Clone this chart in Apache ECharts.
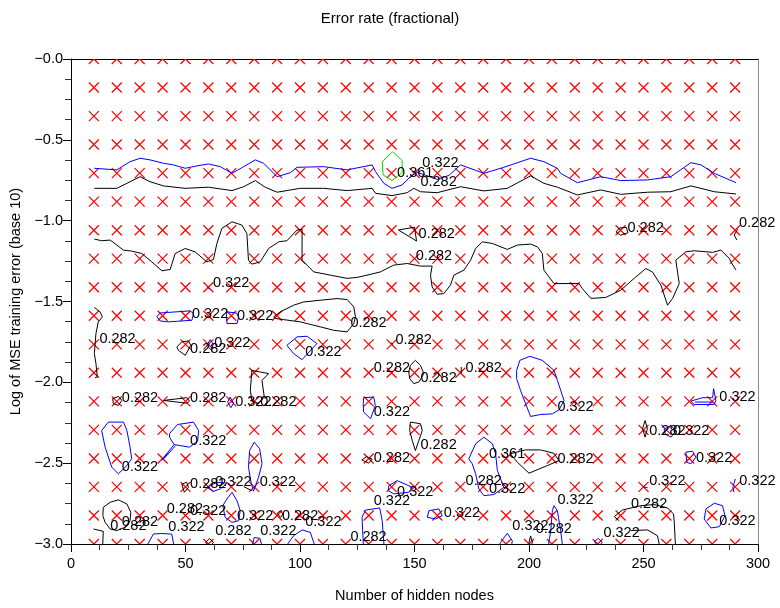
<!DOCTYPE html>
<html>
<head>
<meta charset="utf-8">
<title>Error rate (fractional)</title>
<script src="https://cdn.jsdelivr.net/npm/echarts@6/dist/echarts.min.js"></script>
<style>
  html, body { margin: 0; padding: 0; background: #fff; }
  #chart { width: 780px; height: 608px; }
</style>
</head>
<body>
<div id="chart"></div>
<script>
// Sample grid: number of hidden nodes (x) and log10 MSE training error (y)
const nodeCounts = [10, 20, 30, 40, 50, 60, 70, 80, 90, 100, 110, 120, 130, 140, 150,
  160, 170, 180, 190, 200, 210, 220, 230, 240, 250, 260, 270, 280, 290];
const logMse = [0, -0.176, -0.353, -0.529, -0.706, -0.882, -1.059, -1.235, -1.412,
  -1.588, -1.765, -1.941, -2.118, -2.294, -2.471, -2.647, -2.824, -3.0];

// Contour levels of the error rate
const levels = [0.282, 0.322, 0.361];
const levelColors = ['#000000', '#0000ff', '#00dd00'];

// Contour paths at error rate 0.282
const contour282 = [
  [[10.2,-0.8],[20,-0.8],[24.4,-0.769],[30.2,-0.728],[34.5,-0.759],[40.4,-0.785],[49.9,-0.8],[60,-0.793],[70.3,-0.814],[75.4,-0.79],[80.5,-0.752],[84.8,-0.793],[90,-0.824],[100.1,-0.8],[110.3,-0.8],[120.6,-0.814],[131.5,-0.8],[133,-0.831],[140.2,-0.845],[146.8,-0.827],[149.7,-0.8],[152.6,-0.821],[159.9,-0.827],[170.1,-0.79],[180.3,-0.816],[190.5,-0.8],[200.7,-0.723],[206.5,-0.769],[212.4,-0.793],[221.1,-0.841],[231.3,-0.81],[240.1,-0.837],[251.8,-0.824],[261.9,-0.821],[270.7,-0.785],[280.9,-0.821],[290.4,-0.835]],
  [[10.2,-1.114],[13.4,-1.124],[17.1,-1.12],[22.9,-1.182],[26.5,-1.188],[30.9,-1.203],[35.3,-1.255],[39.7,-1.31],[43.3,-1.302],[45.5,-1.203],[49.9,-1.172],[54.2,-1.193],[59.3,-1.255],[62.2,-1.24],[63.7,-1.141],[65.9,-1.048],[70.3,-1.007],[74.6,-1.027],[76.8,-1.079],[77.5,-1.244],[79,-1.269],[82.6,-1.255],[86.3,-1.172],[90.7,-1.131],[94.3,-1.124],[98.7,-1.058],[100.9,-1.054],[100.9,-1.244],[106,-1.317],[113.3,-1.337],[120.6,-1.357],[124.9,-1.351],[129.3,-1.337],[135.1,-1.317],[140.9,-1.275],[146.8,-1.265],[152.6,-1.281],[157.7,-1.281],[157,-1.337],[157.7,-1.41],[159.9,-1.455],[162.8,-1.451],[165.7,-1.399],[167.2,-1.337],[171.6,-1.306],[174.5,-1.244],[176.7,-1.172],[179.6,-1.131],[184,-1.141],[190.5,-1.178],[194.9,-1.151],[200.7,-1.145],[203.7,-1.162],[205.8,-1.203],[206.5,-1.306],[210.9,-1.389],[221.8,-1.389],[223.3,-1.42],[227,-1.481],[233.5,-1.475],[240.1,-1.43],[245.9,-1.357],[251,-1.296],[253.9,-1.317],[257.6,-1.399],[260.5,-1.523],[262.7,-1.481],[265.6,-1.389],[264.1,-1.244],[268.5,-1.193],[272.1,-1.186],[280.2,-1.196],[283.8,-1.182],[287.5,-1.234],[288.2,-1.255],[290.4,-1.306]],
  [[143,-1.058],[150,-1.04],[150.9,-1.126],[143,-1.058]],
  [[238,-1.07],[239.5,-1.045],[242.5,-1.042],[243.2,-1.075],[240,-1.09],[238,-1.07]],
  [[291.1,-1.054],[289.6,-1.089],[290.8,-1.12]],
  [[10.2,-1.537],[12.7,-1.564],[13.7,-1.595],[11.9,-1.626],[10.9,-1.698],[10.2,-1.822],[10.9,-1.884],[11.5,-1.967],[10.5,-1.971]],
  [[88.5,-1.595],[91.4,-1.564],[97.2,-1.523],[101.6,-1.503],[108.9,-1.492],[116.2,-1.482],[120.6,-1.488],[123.5,-1.533],[124.2,-1.595],[123.5,-1.636],[120.6,-1.688],[114.7,-1.678],[108.9,-1.657],[100.1,-1.626],[92.8,-1.612],[89.2,-1.605],[88.5,-1.595]],
  [[46.2,-1.781],[48.4,-1.75],[51.3,-1.744],[52.3,-1.771],[49.9,-1.833],[46.9,-1.802],[46.2,-1.781]],
  [[139.8,-1.755],[140.6,-1.766]],
  [[148.2,-1.895],[150.4,-1.864],[152.6,-1.895],[154.1,-1.946],[151.9,-1.998],[149.7,-2.008],[147.9,-1.977],[147.5,-1.936],[148.2,-1.895]],
  [[170.4,-1.905],[170.4,-1.943]],
  [[79,-1.926],[82.6,-1.936],[86.3,-1.946],[83.4,-1.988],[84.4,-2.091],[81.9,-2.132],[79,-2.112],[78.3,-2.05],[79,-1.926]],
  [[18.2,-2.101],[20.7,-2.087],[22.2,-2.112],[20.7,-2.143],[18.5,-2.132],[18.2,-2.101]],
  [[40.4,-2.112],[50.6,-2.095],[51.7,-2.116],[50.6,-2.129],[40.4,-2.112]],
  [[148.2,-2.246],[152.6,-2.256],[153.4,-2.298],[151.9,-2.36],[150.4,-2.422],[149,-2.36],[147.9,-2.298],[148.2,-2.246]],
  [[250.7,-2.236],[251.7,-2.287],[250.7,-2.339],[249.6,-2.287],[250.7,-2.236]],
  [[127,-2.48],[129,-2.46],[131.5,-2.475],[130,-2.5],[127,-2.48]],
  [[191.8,-2.442],[198.5,-2.418],[205.1,-2.418],[210.9,-2.439],[213.1,-2.484],[208,-2.515],[200,-2.562],[194.9,-2.494],[191.8,-2.442]],
  [[48.4,-2.63],[50.5,-2.618],[51.3,-2.65],[49.5,-2.68],[48.4,-2.63]],
  [[75.4,-2.645],[79,-2.67]],
  [[14.1,-2.773],[17.1,-2.742],[20.7,-2.727],[24.4,-2.752],[26.1,-2.804],[25.8,-2.856],[23.6,-2.897],[20,-2.917],[17.1,-2.907],[14.9,-2.866],[13.9,-2.825],[14.1,-2.773]],
  [[9.8,-2.907],[14.1,-2.922],[13.7,-3.05]],
  [[90,-2.81],[91.5,-2.794],[92.6,-2.815],[91.5,-2.835],[90,-2.81]],
  [[60.5,-2.966],[62.2,-2.99],[60.5,-3.02],[58.8,-2.99],[60.5,-2.966]],
  [[200.7,-2.95],[201.5,-2.99],[200.7,-3.02],[200,-2.99],[200.7,-2.95]],
  [[239.4,-2.856],[237.2,-2.831],[240.8,-2.79],[248.8,-2.763],[254.6,-2.756],[260.5,-2.777],[263.1,-2.814],[263.4,-2.856],[264.1,-3.05]],
  [[244.5,-2.917],[251.8,-2.913],[256.1,-2.949],[257.6,-3.05]]
];

// Contour paths at error rate 0.322
const contour322 = [
  [[10.2,-0.676],[20,-0.686],[25.8,-0.635],[30.2,-0.614],[34.5,-0.624],[40.4,-0.645],[44.7,-0.655],[49.9,-0.676],[55,-0.661],[60,-0.649],[65.2,-0.666],[70.3,-0.707],[75.4,-0.666],[80.5,-0.624],[84.1,-0.645],[90,-0.728],[95.8,-0.703],[98.7,-0.67],[110.3,-0.666],[120.6,-0.686],[131.5,-0.655],[133,-0.697],[136.6,-0.769],[140.2,-0.8],[144.6,-0.779],[148.2,-0.728],[151,-0.7],[155,-0.72],[160,-0.745],[165,-0.72],[170.1,-0.655],[180.3,-0.707],[189,-0.67],[200.7,-0.614],[206.5,-0.635],[212.4,-0.676],[213.8,-0.707],[221.1,-0.765],[231.3,-0.728],[240.1,-0.752],[251.8,-0.748],[261.9,-0.728],[270.7,-0.641],[275.1,-0.655],[280.9,-0.707],[290.4,-0.765]],
  [[37.5,-1.595],[38.9,-1.571],[52,-1.558],[53.5,-1.574],[52.8,-1.616],[42.5,-1.626],[38.9,-1.62],[37.5,-1.595]],
  [[67.8,-1.564],[72.2,-1.571],[73.2,-1.595],[72.5,-1.636],[68.1,-1.636],[67.8,-1.564]],
  [[59.5,-1.412],[60.5,-1.422]],
  [[60.8,-1.736],[62.2,-1.765],[61.1,-1.798],[59.3,-1.771],[60.8,-1.736]],
  [[94.3,-1.771],[98.7,-1.719],[103.1,-1.715],[107.4,-1.76],[100.9,-1.86],[97.2,-1.822],[94.3,-1.771]],
  [[69.5,-2.091],[71,-2.129],[69.8,-2.157],[68.4,-2.122],[69.5,-2.091]],
  [[127.8,-2.095],[132.2,-2.091],[132.9,-2.143],[130.8,-2.225],[127.8,-2.184],[127.6,-2.132],[127.8,-2.095]],
  [[194.6,-1.926],[196,-1.864],[200.4,-1.839],[205.8,-1.864],[210.9,-1.926],[212.4,-1.988],[215.3,-2.112],[213.1,-2.17],[210.2,-2.195],[205.1,-2.199],[200.7,-2.211],[198.5,-2.132],[196.3,-2.05],[194.6,-1.977],[194.6,-1.926]],
  [[270.7,-2.116],[275.8,-2.095],[280.2,-2.095],[280.6,-2.039],[281.6,-2.112],[280.9,-2.137],[272.1,-2.137],[270.7,-2.116]],
  [[272.5,-2.122],[280.4,-2.122]],
  [[13.4,-2.298],[16.3,-2.246],[22.9,-2.246],[24.4,-2.298],[25.8,-2.401],[26.5,-2.473],[24.4,-2.515],[20.7,-2.566],[17.8,-2.525],[14.9,-2.401],[13.4,-2.298]],
  [[43,-2.318],[46.5,-2.261],[53.5,-2.246],[55.7,-2.298],[55.3,-2.364],[51.7,-2.401],[45,-2.385],[43,-2.339],[43,-2.318]],
  [[45,-2.385],[39.7,-2.48],[40.6,-2.472],[45.6,-2.392]],
  [[80,-2.37],[82.4,-2.411],[83.4,-2.504],[81.9,-2.587],[79.7,-2.674],[78.6,-2.618],[77.5,-2.525],[78,-2.422],[80,-2.37]],
  [[59.3,-2.649],[63.7,-2.618],[68.1,-2.624],[65.2,-2.659],[62.2,-2.674],[59.3,-2.649]],
  [[70.3,-2.68],[72.5,-2.732],[73.9,-2.794],[73.2,-2.856],[70.3,-2.866],[67.3,-2.835],[66.3,-2.763],[68.1,-2.721],[70.3,-2.68]],
  [[138.8,-2.639],[142.4,-2.608],[146.8,-2.635],[149,-2.65],[147.5,-2.68],[141,-2.69],[138.5,-2.67],[138.8,-2.639]],
  [[173.7,-2.473],[176.7,-2.38],[180.3,-2.339],[184,-2.38],[185.4,-2.442],[186.2,-2.546],[189,-2.649],[184.7,-2.694],[180.3,-2.701],[178.1,-2.659],[176.7,-2.566],[175.2,-2.504],[173.7,-2.473]],
  [[268.5,-2.432],[271.4,-2.426],[272.9,-2.463],[270.7,-2.504],[268.9,-2.494],[268.5,-2.432]],
  [[259,-2.29],[262,-2.267],[264.1,-2.3],[262,-2.339],[259.5,-2.32],[259,-2.29]],
  [[249.6,-2.645],[251.8,-2.652]],
  [[290.1,-2.597],[289,-2.65],[289.5,-2.68]],
  [[156.3,-2.794],[160.6,-2.783],[162.1,-2.825],[159.2,-2.845],[155.6,-2.835],[156.3,-2.794]],
  [[208,-3.05],[209.5,-2.917],[210.2,-2.794],[210.9,-2.763],[212.4,-2.794],[213.8,-2.917],[215,-3.05]],
  [[277.3,-2.783],[280.9,-2.748],[284.5,-2.763],[285.6,-2.825],[283.1,-2.893],[279.4,-2.901],[276.5,-2.845],[277.3,-2.783]],
  [[127.8,-3.05],[127.1,-2.835],[128.6,-2.79],[134.8,-2.777],[135.9,-2.856],[136.9,-3.05]],
  [[31.6,-3.05],[36,-2.938],[39.7,-2.935],[44,-2.939],[45.5,-3.05]],
  [[78.3,-3.05],[80,-2.96],[82.5,-2.965],[84.1,-3.05]],
  [[92.1,-3.05],[97.2,-2.949],[100.9,-2.913],[104.5,-2.928],[107.4,-3.05]],
  [[185.4,-3.05],[187.6,-2.99],[190.5,-2.934],[192.7,-2.98],[192,-3.05]],
  [[228.6,-2.985],[230.2,-2.965],[232,-2.99],[230.3,-3.02],[228.6,-2.985]]
];

// Contour paths at error rate 0.361
const contour361 = [
  [[140.5,-0.573],[144.6,-0.628],[144.6,-0.703],[140.2,-0.752],[136.3,-0.717],[135.9,-0.635],[140.5,-0.573]]
];

// Where each level's value is written (left edge of the text, vertical centre)
const labels282 = [
  [152.6,-0.759],[151.8,-1.083],[243,-1.045],[291.7,-1.015],[150.6,-1.218],[122,-1.636],
  [12.4,-1.729],[52,-1.792],[141.7,-1.736],[132.2,-1.909],[152.6,-1.971],[172.3,-1.909],
  [22.2,-2.095],[52,-2.095],[82.6,-2.122],[152.6,-2.385],[132.2,-2.467],[212.4,-2.473],
  [252.5,-2.302],[52,-2.628],[172.3,-2.608],[41.8,-2.783],[92.1,-2.825],[244.5,-2.752],
  [17.1,-2.887],[22.2,-2.866],[63,-2.917],[122,-2.959],[202.9,-2.907]
];
const labels322 = [
  [153.4,-0.645],[62,-1.387],[52.8,-1.579],[72.5,-1.591],[62.5,-1.757],[102.3,-1.812],
  [212.4,-2.153],[71.7,-2.122],[132.2,-2.184],[283.1,-2.091],[52,-2.364],[22.2,-2.525],
  [262.9,-2.302],[272.9,-2.467],[63,-2.618],[82.4,-2.618],[182.5,-2.659],[252.5,-2.612],
  [291.8,-2.612],[142.4,-2.68],[132.2,-2.736],[212.4,-2.726],[52,-2.794],[72.5,-2.825],
  [162.8,-2.81],[283.1,-2.856],[42.5,-2.893],[102.3,-2.866],[82.6,-2.917],[192.7,-2.887],
  [232.5,-2.934]
];
const labels361 = [
  [142.4,-0.707],[182.5,-2.442]
];

// Axis tick labels
const xTicks = [0, 50, 100, 150, 200, 250, 300];
const yTicks = [0, -0.5, -1.0, -1.5, -2.0, -2.5, -3.0];

const FONT = '"Liberation Sans", Arial, Helvetica, sans-serif';
const FS = 14.5;

const samplePoints = [];
logMse.forEach(y => nodeCounts.forEach(x => samplePoints.push([x, y])));

const contourSets = [contour282, contour322, contour361];
const labelSets = [labels282, labels322, labels361];

const series = [];

// Red crosses at each sampled configuration
series.push({
  type: 'custom',
  coordinateSystem: 'cartesian2d',
  clip: true,
  silent: true,
  z: 1,
  data: samplePoints,
  renderItem: function (params, api) {
    const p = api.coord([api.value(0), api.value(1)]);
    const h = 5;
    const x = p[0];
    const y = p[1];
    return {
      type: 'path',
      shape: {
        pathData: 'M' + (x - h) + ' ' + (y - h) + 'L' + (x + h) + ' ' + (y + h) +
                  'M' + (x - h) + ' ' + (y + h) + 'L' + (x + h) + ' ' + (y - h)
      },
      style: { stroke: '#ff0000', fill: null, lineWidth: 1.25 }
    };
  }
});

// Contour lines
contourSets.forEach((set, li) => {
  set.forEach(path => {
    series.push({
      type: 'line',
      data: path,
      showSymbol: false,
      symbol: 'none',
      silent: true,
      clip: true,
      z: 2,
      lineStyle: { color: levelColors[li], width: 1 },
      animation: false
    });
  });
});

// Level labels
labelSets.forEach((set, li) => {
  const text = levels[li].toFixed(3);
  series.push({
    type: 'custom',
    coordinateSystem: 'cartesian2d',
    clip: false,
    silent: true,
    z: 3,
    data: set,
    renderItem: function (params, api) {
      const p = api.coord([api.value(0), api.value(1)]);
      return {
        type: 'text',
        x: p[0],
        y: p[1],
        style: {
          text: text,
          fill: '#000',
          font: FS + 'px ' + FONT,
          align: 'left',
          verticalAlign: 'middle'
        }
      };
    }
  });
});

const chart = echarts.init(document.getElementById('chart'), null, { renderer: 'canvas' });
chart.setOption({
  animation: false,
  backgroundColor: '#ffffff',
  textStyle: { fontFamily: FONT },
  title: {
    text: 'Error rate (fractional)',
    left: 'center',
    top: 6,
    textStyle: { fontFamily: FONT, fontSize: 15, fontWeight: 'normal', color: '#000' }
  },
  grid: { left: 71, right: 22, top: 59, bottom: 64 },
  xAxis: [{
    type: 'value',
    min: 0, max: 300, interval: 50,
    name: 'Number of hidden nodes',
    nameLocation: 'middle',
    nameGap: 44,
    nameTextStyle: { fontFamily: FONT, fontSize: FS, color: '#000' },
    axisLine: { show: true, onZero: false, lineStyle: { color: '#000', width: 1 } },
    axisTick: { show: true, length: 8, lineStyle: { color: '#000' } },
    minorTick: { show: true, splitNumber: 4, length: 6, lineStyle: { color: '#333' } },
    splitLine: { show: false },
    axisLabel: {
      fontFamily: FONT, fontSize: FS, color: '#000', margin: 12,
      formatter: v => (xTicks.indexOf(v) >= 0 ? String(v) : '')
    }
  }, {
    type: 'value',
    position: 'top',
    min: 0, max: 300,
    axisLine: { show: true, onZero: false, lineStyle: { color: '#000', width: 1 } },
    axisTick: { show: false },
    axisLabel: { show: false },
    splitLine: { show: false }
  }],
  yAxis: [{
    type: 'value',
    min: -3, max: 0, interval: 0.5,
    name: 'Log of MSE training error (base 10)',
    nameLocation: 'middle',
    nameGap: 46,
    nameTextStyle: { fontFamily: FONT, fontSize: FS, color: '#000' },
    axisLine: { show: true, onZero: false, lineStyle: { color: '#000', width: 1 } },
    axisTick: { show: true, length: 8, lineStyle: { color: '#000' } },
    minorTick: { show: true, splitNumber: 4, length: 6, lineStyle: { color: '#333' } },
    splitLine: { show: false },
    axisLabel: {
      fontFamily: FONT, fontSize: FS, color: '#000', margin: 8,
      formatter: v => (yTicks.some(t => Math.abs(t - v) < 1e-9) ? '\u2212' + Math.abs(v).toFixed(1) : '')
    }
  }, {
    type: 'value',
    position: 'right',
    min: -3, max: 0,
    axisLine: { show: true, onZero: false, lineStyle: { color: '#8c8c8c', width: 1 } },
    axisTick: { show: false },
    axisLabel: { show: false },
    splitLine: { show: false }
  }],
  series: series
});
</script>
</body>
</html>
